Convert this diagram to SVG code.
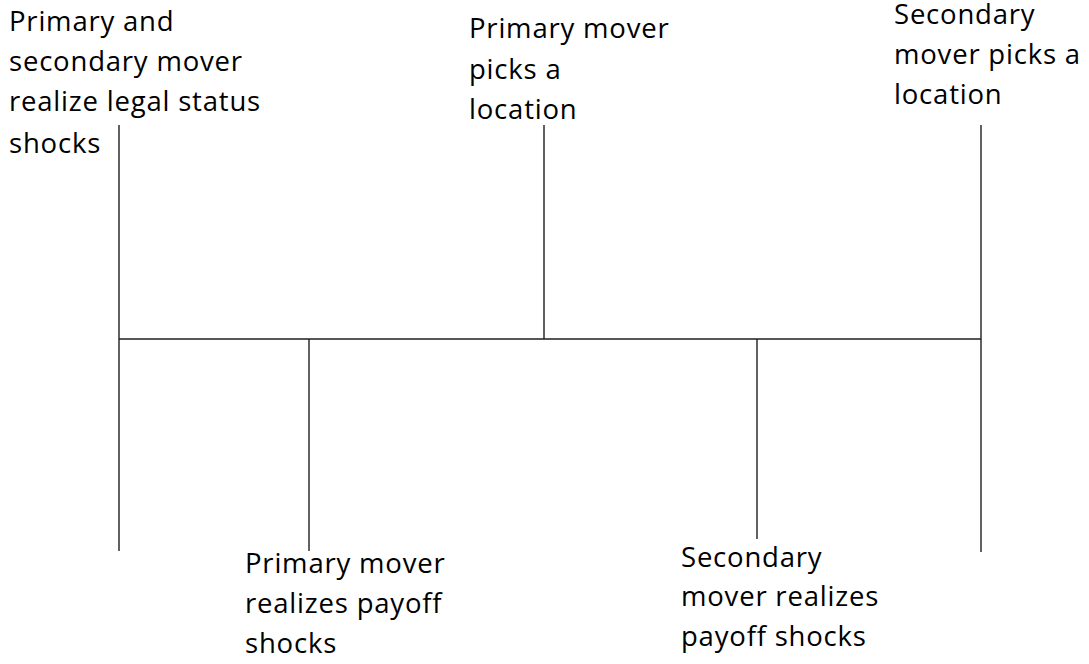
<svg xmlns="http://www.w3.org/2000/svg" width="1089" height="664" viewBox="0 0 1089 664">
  <style>
    .lbl { font-family: "Open Sans", "Liberation Sans", sans-serif; font-size: 27.5px; letter-spacing: 0.8px; fill: #000; }
    .ln { stroke: #1e1e1e; stroke-width: 1.4; fill: none; }
  </style>
  <rect width="1089" height="664" fill="#fff"/>
  <g id="connectors">
    <line class="ln" x1="119" y1="339" x2="981" y2="339"/>
    <line class="ln" x1="119" y1="125" x2="119" y2="551"/>
    <line class="ln" x1="544" y1="125" x2="544" y2="339"/>
    <line class="ln" x1="981" y1="125" x2="981" y2="552"/>
    <line class="ln" x1="309" y1="339" x2="309" y2="551"/>
    <line class="ln" x1="757" y1="339" x2="757" y2="539"/>
  </g>
  <g id="event-legal-status">
    <text class="lbl" x="9" y="31">Primary and</text>
    <text class="lbl" x="9" y="71">secondary mover</text>
    <text class="lbl" x="9" y="111">realize legal status</text>
    <text class="lbl" x="9" y="153">shocks</text>
  </g>
  <g id="event-primary-picks">
    <text class="lbl" x="469" y="38">Primary mover</text>
    <text class="lbl" x="469" y="79">picks a</text>
    <text class="lbl" x="469" y="119">location</text>
  </g>
  <g id="event-secondary-picks">
    <text class="lbl" x="894" y="24">Secondary</text>
    <text class="lbl" x="894" y="64">mover picks a</text>
    <text class="lbl" x="894" y="104">location</text>
  </g>
  <g id="event-primary-payoff">
    <text class="lbl" x="245" y="573">Primary mover</text>
    <text class="lbl" x="245" y="613">realizes payoff</text>
    <text class="lbl" x="245" y="653">shocks</text>
  </g>
  <g id="event-secondary-payoff">
    <text class="lbl" x="681" y="567">Secondary</text>
    <text class="lbl" x="681" y="606">mover realizes</text>
    <text class="lbl" x="681" y="646">payoff shocks</text>
  </g>
</svg>
